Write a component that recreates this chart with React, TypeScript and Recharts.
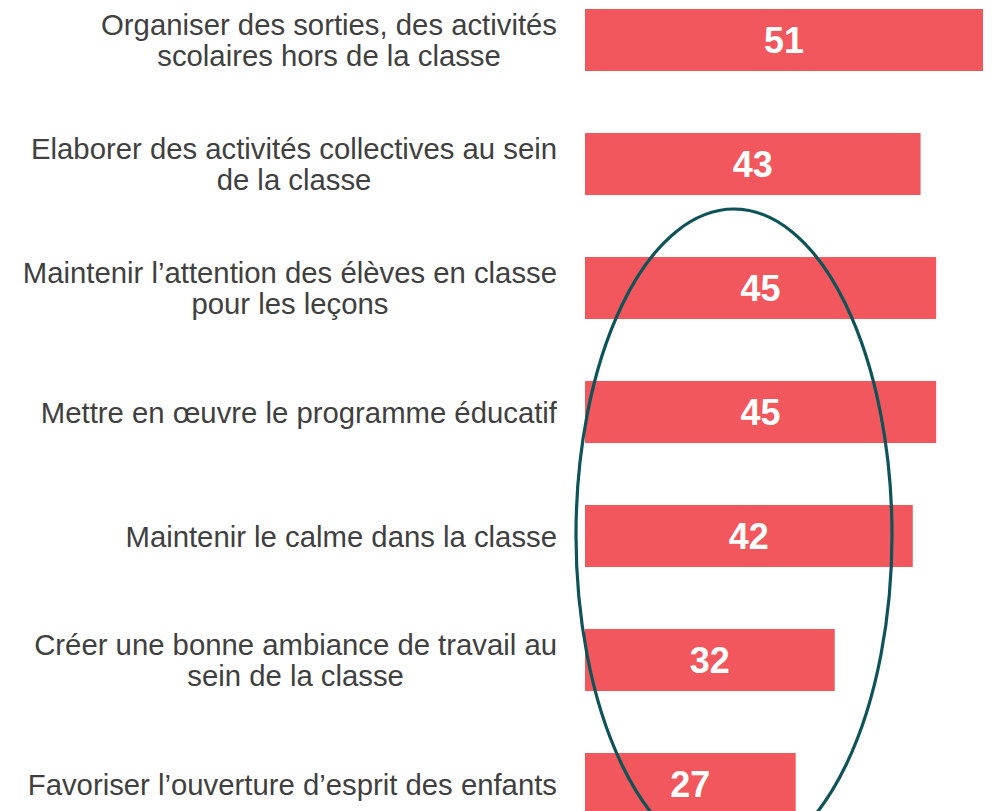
import { BarChart, Bar, XAxis, YAxis, LabelList } from "recharts";

const categories = [
  "Organiser des sorties, des activités\nscolaires hors de la classe",
  "Elaborer des activités collectives au sein\nde la classe",
  "Maintenir l’attention des élèves en classe\npour les leçons",
  "Mettre en œuvre le programme éducatif",
  "Maintenir le calme dans la classe",
  "Créer une bonne ambiance de travail au\nsein de la classe",
  "Favoriser l’ouverture d’esprit des enfants",
];

const values = [51, 43, 45, 45, 42, 32, 27];

const data = categories.map((name, i) => ({ name, value: values[i] }));

const BAR_COLOR = "#F1575C";
const RING_COLOR = "#0D5358";
const FONT = "'Liberation Sans', Arial, sans-serif";

function CategoryTick(props: any) {
  const { y, payload } = props;
  const lines = String(payload.value).split("\n");
  return (
    <foreignObject x={0} y={y - 60} width={557} height={120}>
      <div
        style={{
          height: 120,
          display: "flex",
          alignItems: "center",
          justifyContent: "flex-end",
        }}
      >
        <div
          style={{
            textAlign: "center",
            fontFamily: FONT,
            fontSize: 29.3,
            lineHeight: "31px",
            color: "#404040",
            whiteSpace: "nowrap",
          }}
        >
          {lines.map((l, i) => (
            <div key={i}>{l}</div>
          ))}
        </div>
      </div>
    </foreignObject>
  );
}

export default function App() {
  return (
    <div
      style={{
        position: "absolute",
        left: 0,
        top: 0,
        width: 994,
        height: 811,
        overflow: "hidden",
        background: "#fff",
      }}
    >
      <div style={{ position: "absolute", left: 0, top: -22 }}>
        <BarChart
          layout="vertical"
          width={994}
          height={868}
          data={data}
          margin={{ top: 0, right: 11, bottom: 0, left: 0 }}
          barCategoryGap="25%"
        >
          <XAxis type="number" domain={[0, 51]} hide />
          <YAxis
            type="category"
            dataKey="name"
            width={585}
            axisLine={false}
            tickLine={false}
            tick={<CategoryTick />}
            interval={0}
          />
          <Bar dataKey="value" fill={BAR_COLOR} isAnimationActive={false}>
            <LabelList
              dataKey="value"
              position="center"
              fill="#fff"
              fontSize={36}
              fontWeight="bold"
              fontFamily={FONT}
            />
          </Bar>
        </BarChart>
      </div>
      <svg
        width={994}
        height={811}
        style={{ position: "absolute", left: 0, top: 0, pointerEvents: "none" }}
      >
        <ellipse
          cx={734}
          cy={535}
          rx={158}
          ry={326}
          fill="none"
          stroke={RING_COLOR}
          strokeWidth={3.2}
        />
      </svg>
    </div>
  );
}
